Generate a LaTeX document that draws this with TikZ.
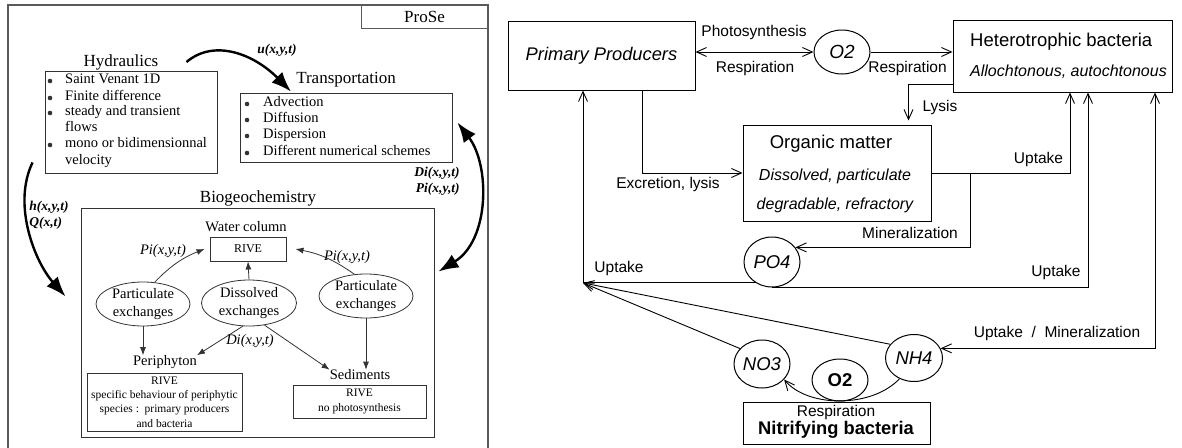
\documentclass[tikz,border=0pt]{standalone}
\usepackage{fontspec}
\setmainfont{Liberation Serif}
\setsansfont{Liberation Sans}
\usetikzlibrary{positioning,arrows.meta,shapes.geometric,calc}
\definecolor{ink}{HTML}{333333}
\definecolor{rim}{HTML}{5A5A5A}
\newcommand{\pxfont}[2]{\fontsize{#1}{#2}\selectfont}

\begin{document}
\begin{tikzpicture}[x=1pt, y=-1pt,
  box/.style={draw=ink, line width=0.9pt, inner sep=0},
  ttl/.style={font=\pxfont{17}{20}, inner sep=0},
  sub/.style={font=\pxfont{14.5}{17}, inner sep=0},
  itm/.style={font=\pxfont{14.5}{17}, inner sep=0, anchor=west, text height=10pt, text depth=3pt},
  dot/.style={circle, fill=ink, minimum size=4.6pt, inner sep=0},
  small/.style={font=\pxfont{11.5}{14.3}, align=center},
  ex/.style={ellipse, draw=ink, line width=0.8pt, minimum width=94pt, minimum height=44pt,
             inner sep=0, align=center, font=\pxfont{14.5}{17.5}},
  var/.style={font=\pxfont{14.5}{17}\itshape, inner sep=0},
  flux/.style={font=\pxfont{13.5}{16}\bfseries\itshape, inner sep=0},
  big/.style={line width=2.4pt, -{Latex[length=20pt,width=15pt]}},
  bigboth/.style={line width=2.4pt, {Latex[length=20pt,width=15pt]}-{Latex[length=20pt,width=15pt]}},
  sarr/.style={draw=ink, line width=0.8pt, -{Latex[length=8pt,width=6pt]}},
  blk/.style={draw, line width=1pt, inner sep=0},
  pool/.style={ellipse, draw, line width=1pt, inner sep=0, font=\sffamily\itshape\pxfont{18.5}{20}},
  lbl/.style={font=\sffamily\pxfont{15.5}{18}, inner sep=0},
  arr/.style={line width=0.9pt, -{Straight Barb[length=10pt,width=9pt]}},
  arrboth/.style={line width=0.9pt, {Straight Barb[length=10pt,width=9pt]}-{Straight Barb[length=10pt,width=9pt]}}]
\useasboundingbox (0,0) rectangle (1182,447);

\draw[rim, line width=1.3pt] (8,452) -- (8,5) -- (488,5) -- (488,452);
\node[box, draw=rim, minimum width=127pt, minimum height=23pt, font=\pxfont{17}{20}] (prose) at (424.5,16.5) {ProSe};

\node[ttl] (hydt) at (121,62) {Hydraulics};
\node[box, minimum width=172pt, minimum height=102pt] (hyd) at (131,122) {};
\foreach \t/\y in {Saint Venant 1D/80, Finite difference/97, steady and transient/112, flows/128,
                   mono or bidimensionnal/144, velocity/161}
  \node[itm] (h\y) at (65,\y) {\t};
\foreach \y in {80,97,112,144}
  \node[dot] (hb\y) at (50,\y+1) {};

\node[ttl] (trnt) at (346,80) {Transportation};
\node[box, minimum width=212pt, minimum height=69pt] (trn) at (346,127.5) {};
\foreach \t/\y in {Advection/103, Diffusion/119, Dispersion/135, Different numerical schemes/152} {
  \node[itm] (t\y) at (263,\y) {\t};
  \node[dot] (tb\y) at (247,\y+1) {};
}

\node[ttl] (bgt) at (258,198) {Biogeochemistry};
\node[box, minimum width=353pt, minimum height=229pt] (bg) at (257.5,322.5) {};
\node[sub] (wct) at (246,227) {Water column};
\node[box, minimum width=76pt, minimum height=24pt, font=\pxfont{12}{14}] (rive) at (248,249) {RIVE};
\node[ex] (pel) at (143,304) {Particulate\\exchanges};
\node[ex, minimum width=95pt, minimum height=46pt] (dis) at (249,303) {Dissolved\\exchanges};
\node[ex] (per) at (366,296) {Particulate\\exchanges};
\node[sub] (perit) at (165,362) {Periphyton};
\node[box, minimum width=155pt, minimum height=58pt, small] (peri) at (164.5,402)
  {RIVE\\specific behaviour of periphytic\\species :\ \ primary producers\\and bacteria};
\node[sub] (sedt) at (360,375) {Sediments};
\node[box, minimum width=133pt, minimum height=33pt, small] (sed) at (359.5,401.5) {RIVE\\no photosynthesis};

\draw[sarr] (pel.62) to[bend left=12] ([xshift=-5pt]rive.west);
\draw[sarr] (per.118) to[bend right=12] ([xshift=9pt]rive.east);
\draw[sarr] (dis.north) -- (rive.south);
\draw[sarr] (pel.south) -- (pel.south |- perit.north);
\draw[sarr] (dis.255) -- (perit.north east);
\draw[sarr] (dis.305) -- (sedt.north west);
\draw[sarr] (per.south) -- (per.south |- sedt.north);
\node[var] (pi1) at (163,251) {Pi(x,y,t)};
\node[var] (pi2) at (347,257) {Pi(x,y,t)};
\node[var] (di1) at (250,341) {Di(x,y,t)};

\node[flux, align=left] (fh) at (49,215) {h(x,y,t)\\Q(x,t)};
\node[flux] (fu) at (277,50) {u(x,y,t)};
\node[flux, align=right] (fdp) at (437,181) {Di(x,y,t)\\Pi(x,y,t)};
\draw[big] ([xshift=28pt]hydt.east) .. controls (215,38) and (255,55) .. ([shift={(-5,4)}]trnt.south west);
\draw[big] ([shift={(-12,-11)}]hyd.south west) .. controls (12,205) and (35,262) .. ([shift={(-15,-26)}]bg.west);
\draw[bigboth] ([shift={(5,-5)}]trn.east) .. controls (490,165) and (490,240) .. ([shift={(4,64)}]bg.north east);

\node[blk, minimum width=187pt, minimum height=69pt, font=\sffamily\itshape\pxfont{18.3}{20}] (pp) at (601.5,55.5) {Primary Producers};
\node[pool, minimum width=56pt, minimum height=44pt, font=\sffamily\itshape\pxfont{19}{20}] (o2) at (842,52) {O2};
\node[blk, minimum width=219pt, minimum height=72pt] (het) at (1062.5,56) {};
\node[font=\sffamily\pxfont{18.5}{20}, anchor=west, inner sep=0] (hett) at (970,42) {Heterotrophic bacteria};
\node[font=\sffamily\itshape\pxfont{16}{18}, anchor=west, inner sep=0] (hets) at (970,72) {Allochtonous, autochtonous};
\node[blk, minimum width=188pt, minimum height=96pt] (om) at (837,173) {};
\node[font=\sffamily\pxfont{18.5}{20}, inner sep=0] (omt) at (831,144) {Organic matter};
\node[font=\sffamily\itshape\pxfont{16}{18}, inner sep=0] (oms) at (835,176) {Dissolved, particulate};
\node[font=\sffamily\itshape\pxfont{16}{18}, inner sep=0] (omd) at (835,205) {degradable, refractory};
\node[pool, minimum width=56pt, minimum height=50pt] (po4) at (772,262) {PO4};
\node[pool, minimum width=56pt, minimum height=48pt] (no3) at (762,364) {NO3};
\node[pool, minimum width=57pt, minimum height=47pt] (nh4) at (914,358) {NH4};
\node[pool, minimum width=56pt, minimum height=42pt, font=\sffamily\bfseries\pxfont{18.5}{20}] (o2n) at (840,380) {O2};
\node[blk, minimum width=187pt, minimum height=42pt] (nit) at (836.5,423) {};
\node[lbl] (nitr) at (836,412) {Respiration};
\node[font=\sffamily\bfseries\pxfont{18.3}{20}, inner sep=0] (nitt) at (836,430) {Nitrifying bacteria};

\draw[arrboth] (pp.east |- o2.west) -- (o2.west);
\draw[arr] (o2.east) -- (o2.east -| het.west);
\draw[arr, shorten >=4pt] ([yshift=-28pt]het.west) -| ([xshift=-23pt]om.north east);
\draw[arr] ([xshift=40.5pt]pp.south) |- (om.west);
\draw[arr] (om.east) -| ([xshift=7.5pt]het.south);
\coordinate (mj) at ([xshift=39pt]om.east);
\draw[arr] (mj) |- (po4.32);
\coordinate (upj) at ([xshift=-18.5pt]pp.south |- po4.232);
\draw[arr] (po4.232) -- (upj) -- ([xshift=-18.5pt]pp.south);
\draw[arr] (no3.145) -- (upj);
\draw[arr] (nh4.150) -- (upj);
\draw[arr] (po4.south) -| ([xshift=25.5pt]het.south);
\draw[arrboth] (nh4.20) -| ([xshift=92.5pt]het.south);
\draw[arr] (nh4.235) .. controls (872,408) and (808,408) .. (no3.325);

\node[lbl] (lph) at (754,32) {Photosynthesis};
\node[lbl] (lre1) at (755,68) {Respiration};
\node[lbl] (lre2) at (907.5,68) {Respiration};
\node[lbl] (lly) at (940,107) {Lysis};
\node[lbl] (lex) at (668,184) {Excretion, lysis};
\node[lbl] (lup1) at (1038.5,159) {Uptake};
\node[lbl] (lmin) at (910,233) {Mineralization};
\node[lbl] (lup2) at (619,268) {Uptake};
\node[lbl] (lup3) at (1056,272) {Uptake};
\node[lbl] (lum) at (1057,333) {Uptake~ /~ Mineralization};
\end{tikzpicture}
\end{document}
